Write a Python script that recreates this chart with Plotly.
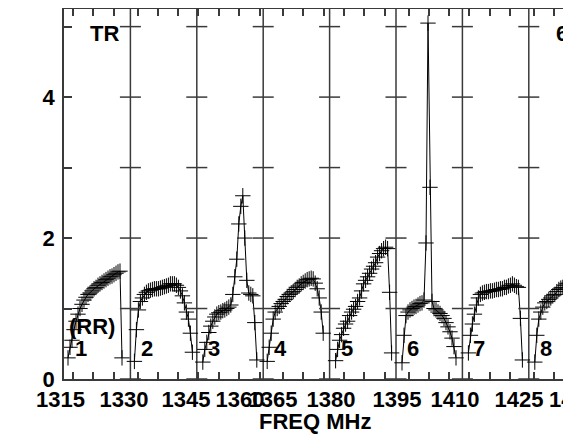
import plotly.graph_objects as go

# ---------------- data ----------------
# display-frequency (MHz) at the left edge of each IF panel
IF_START = [1316.0, 1332.6, 1349.2, 1365.8, 1382.4, 1399.0, 1415.6, 1432.2]
CHAN_OFFSET = 1.0   # first channel offset inside a panel (MHz)
CHAN_STEP = 0.5     # channel spacing (MHz)
IF_NAMES = ["1", "2", "3", "4", "5", "6", "7", "8"]

IF1 = [0.30, 0.45, 0.55, 0.70, 0.82, 0.92, 1.00, 1.06, 1.12, 1.16, 1.20, 1.22, 1.25, 1.28, 1.30,
       1.33, 1.35, 1.37, 1.39, 1.41, 1.43, 1.45, 1.46, 1.48, 1.50, 1.52, 1.53, 0.30, None, None]
IF2 = [0.25, 0.70, 0.98, 1.10, 1.15, 1.20, 1.23, 1.25, 1.26, 1.27, 1.28, 1.28, 1.28, 1.29, 1.30,
       1.31, 1.32, 1.33, 1.35, 1.35, 1.35, 1.33, 1.30, 1.25, 1.18, 1.08, 0.95, 0.85, 0.65, 0.38]
IF3 = [None, 0.24, 0.42, 0.52, 0.66, 0.75, 0.82, 0.88, 0.92, 0.94, 0.95, 0.97, 0.98, 1.00, 1.02,
       1.05, 1.20, 1.45, 1.70, 2.20, 2.45, 2.60, 2.00, 1.40, 1.22, 1.20, 1.18, 0.80, 0.27, None]
IF4 = [0.25, 0.45, 0.65, 0.85, 0.95, 1.00, 1.03, 1.07, 1.10, 1.13, 1.17, 1.20, 1.22, 1.24, 1.27,
       1.30, 1.32, 1.35, 1.37, 1.39, 1.41, 1.42, 1.43, 1.42, 1.36, 1.28, 1.15, 0.95, 0.65, None]
IF5 = [None, 0.26, 0.42, 0.55, 0.63, 0.72, 0.78, 0.82, 0.90, 0.95, 0.99, 1.03, 1.10, 1.15, 1.25,
       1.35, 1.40, 1.45, 1.50, 1.56, 1.60, 1.65, 1.73, 1.78, 1.82, 1.85, 1.87, 1.85, 1.23, 0.37]
IF6 = [None, 0.23, 0.62, 0.90, 0.95, 0.98, 1.00, 1.02, 1.03, 1.05, 1.07, 1.08, 1.12, 1.93, 5.05,
       2.72, 1.10, 1.00, 0.98, 0.95, 0.93, 0.90, 0.86, 0.80, 0.74, 0.67, 0.58, 0.46, 0.30, None]
IF7 = [None, 0.37, 0.62, 0.78, 0.92, 1.05, 1.15, 1.20, 1.22, 1.23, 1.24, 1.24, 1.25, 1.25, 1.26,
       1.27, 1.27, 1.28, 1.28, 1.30, 1.30, 1.32, 1.33, 1.35, 1.33, 1.31, 1.30, 0.86, 0.27, None]
IF8 = [None, 0.24, 0.62, 0.85, 0.95, 1.02, 1.08, 1.10, 1.13, 1.15, 1.18, 1.20, 1.24, 1.27, 1.29,
       1.30, 1.33, 1.35, 1.36, 1.37]
IF_VALUES = [IF1, IF2, IF3, IF4, IF5, IF6, IF7, IF8]

TICK_TEXT = ["1315", "1330", "1345", "1360", "1365", "1380", "1395", "1410", "1425", "1440"]
TICK_POS = [1315.0, 1331.0, 1346.5, 1360.0, 1368.25, 1382.75, 1399.25, 1413.75, 1429.75, 1443.25]
MINOR_TICKS = [1318.25, 1323.25, 1328.5, 1334.5, 1339.5, 1344.5, 1349.5, 1354.75, 1359.75,
               1365.0, 1370.75, 1375.75, 1381.0, 1386.0, 1391.0, 1396.25, 1402.25, 1407.25,
               1412.25, 1417.25, 1422.5, 1427.5, 1433.5, 1438.5]
Y_TICKS = [0, 1, 2, 3, 4, 5]
Y_TICK_TEXT = ["0", "", "2", "", "4", ""]

X_RANGE = [1316.0, 1442.75]
Y_RANGE = [0.0, 5.25]

FONT = dict(family="Arial, Liberation Sans, sans-serif", size=22, color="black", weight="bold")
AXCOL = "#3a3a3a"

fig = go.Figure()

for start, vals in zip(IF_START, IF_VALUES):
    xs = [start + CHAN_OFFSET + CHAN_STEP * k for k in range(len(vals))]
    fig.add_trace(go.Scatter(
        x=xs, y=vals, mode="lines+markers", connectgaps=False, showlegend=False,
        line=dict(color="black", width=1),
        marker=dict(symbol="cross-thin", size=11, color="black",
                    line=dict(color="black", width=1)),
    ))

# tick crosses on panel separators
sep_x, sep_y = [], []
for edge in IF_START[1:]:
    for yv in Y_TICKS:
        sep_x.append(edge)
        sep_y.append(yv)
fig.add_trace(go.Scatter(
    x=sep_x, y=sep_y, mode="markers", showlegend=False, cliponaxis=False,
    marker=dict(symbol="line-ew", size=15, color=AXCOL, line=dict(color=AXCOL, width=1.5)),
))

# panel separator lines
for edge in IF_START[1:]:
    fig.add_shape(type="line", xref="x", yref="paper", x0=edge, x1=edge, y0=0, y1=1,
                  line=dict(color=AXCOL, width=1.5), layer="below")

in_range = [(p, t) for p, t in zip(TICK_POS, TICK_TEXT) if X_RANGE[0] <= p <= X_RANGE[1]]
out_range = [(p, t) for p, t in zip(TICK_POS, TICK_TEXT) if not (X_RANGE[0] <= p <= X_RANGE[1])]

# the page body keeps its default 8px margin, so the figure is sized to fit inside the window
fig.update_layout(
    width=563, height=427,
    margin=dict(l=56, r=0, t=1, b=56),
    paper_bgcolor="white", plot_bgcolor="white",
    font=FONT,
    xaxis=dict(
        range=X_RANGE, showgrid=False, zeroline=False, automargin=False,
        showline=True, linecolor=AXCOL, linewidth=2, mirror="ticks",
        tickmode="array", tickvals=[p for p, _ in in_range], ticktext=[t for _, t in in_range],
        ticks="", tickangle=0, tickfont=FONT,
        minor=dict(tickmode="array", tickvals=MINOR_TICKS, ticks="inside", ticklen=7,
                   tickwidth=1.5, tickcolor=AXCOL, showgrid=False),
    ),
    yaxis=dict(
        range=Y_RANGE, showgrid=False, zeroline=False, automargin=False,
        showline=True, linecolor=AXCOL, linewidth=1.5,
        tickmode="array", tickvals=Y_TICKS, ticktext=Y_TICK_TEXT,
        ticks="inside", ticklen=8, tickwidth=1.5, tickcolor=AXCOL,
        tickfont=FONT, ticklabelstandoff=3,
    ),
)

# out-of-range tick labels
for p, t in out_range:
    frac = (p - X_RANGE[0]) / (X_RANGE[1] - X_RANGE[0])
    fig.add_annotation(x=frac, y=0, xref="paper", yref="paper", text=t, showarrow=False,
                       xanchor="center", yanchor="top", yshift=-6, font=FONT)

# axis title
fig.add_annotation(x=0.495, y=0, xref="paper", yref="paper", text="FREQ MHz", showarrow=False,
                   xanchor="center", yanchor="middle", yshift=-42, font=FONT)

# panel numbers
for start, name in zip(IF_START, IF_NAMES):
    fig.add_annotation(x=start + 2.25, y=0.43, xref="x", yref="y", text=name, showarrow=False,
                       xanchor="left", yanchor="middle", font=FONT)

fig.add_annotation(x=IF_START[0] + 0.75, y=0.74, xref="x", yref="y", text="(RR)", showarrow=False,
                   xanchor="left", yanchor="middle", font=FONT)
fig.add_annotation(x=IF_START[0] + 6.0, y=4.9, xref="x", yref="y", text="TR", showarrow=False,
                   xanchor="left", yanchor="middle", font=FONT)
fig.add_annotation(x=(1438.4 - X_RANGE[0]) / (X_RANGE[1] - X_RANGE[0]), y=4.9, xref="paper", yref="y",
                   text="6", showarrow=False, xanchor="left", yanchor="middle", font=FONT)

fig.write_html("out.html")
